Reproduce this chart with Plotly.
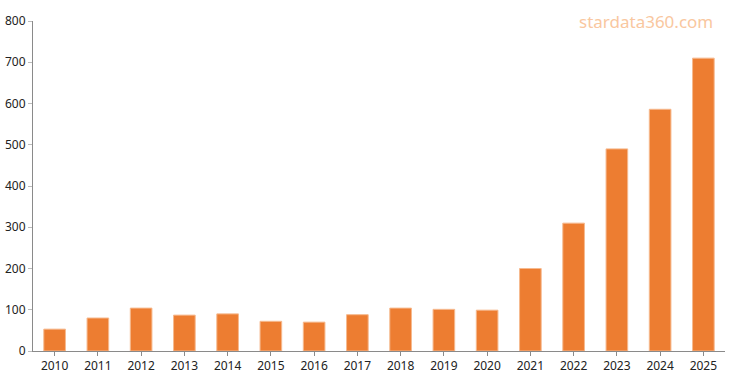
import plotly.graph_objects as go

years = ["2010", "2011", "2012", "2013", "2014", "2015", "2016", "2017",
         "2018", "2019", "2020", "2021", "2022", "2023", "2024", "2025"]
values = [53, 80, 104, 87, 90, 72, 70, 88, 104, 101, 99, 200, 310, 490, 586, 710]
y_ticks = [0, 100, 200, 300, 400, 500, 600, 700, 800]

fig = go.Figure(go.Bar(
    x=years, y=values,
    marker=dict(color="#ED7D31", line=dict(color="#F6B98E", width=1)),
    hoverinfo="x+y",
))

axis_font = dict(family="Noto Sans, Open Sans, sans-serif", size=12, color="#222")
fig.update_layout(
    width=738, height=381,
    margin=dict(l=33, r=13, t=21, b=30, autoexpand=False),
    paper_bgcolor="white", plot_bgcolor="white",
    bargap=0.5,
    showlegend=False,
    xaxis=dict(type="category", showline=True, linecolor="#8a8a8a", linewidth=1,
               ticks="outside", ticklen=4, tickcolor="#8a8a8a", automargin=False,
               tickfont=axis_font, showgrid=False, fixedrange=True),
    yaxis=dict(range=[0, 800], tickvals=y_ticks, showline=True, linecolor="#8a8a8a",
               linewidth=1, ticks="outside", ticklen=4, tickcolor="#bbbbbb",
               automargin=False, ticklabelstandoff=0,
               tickfont=axis_font, showgrid=False, zeroline=False, fixedrange=True),
    annotations=[dict(text="stardata360.com", xref="paper", yref="paper",
                      x=0.985, y=1.0, xanchor="right", yanchor="middle",
                      showarrow=False,
                      font=dict(family="Noto Sans, Open Sans, sans-serif", size=17,
                                color="#F9C7A0"))],
)

fig.write_html("out.html", config={"displayModeBar": False},
               post_script="document.body.style.margin='0';")
